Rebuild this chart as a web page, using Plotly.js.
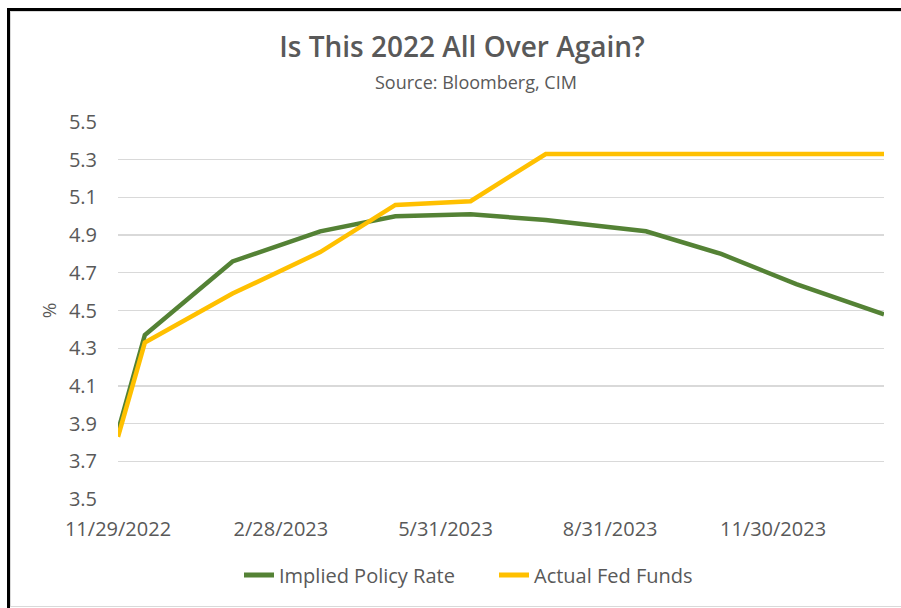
<!DOCTYPE html>
<html>
<head>
<meta charset="utf-8">
<script src="https://cdn.plot.ly/plotly-3.0.1.min.js"></script>
<style>
  html, body { margin: 0; padding: 0; background: #ffffff; }
  #wrap { position: relative; width: 901px; height: 608px; overflow: hidden; }
  #chart { position: absolute; left: 0; top: 0; width: 901px; height: 608px; }
  .frame { position: absolute; pointer-events: none; }
</style>
</head>
<body>
<div id="wrap">
  <div id="chart"></div>
  <div class="frame" style="left:7px; top:8px; width:3px; height:600px; background:#000;"></div>
  <div class="frame" style="left:7px; top:8px; width:894px; height:3px; background:#000;"></div>
  <div class="frame" style="left:10px; top:11px; width:1px; height:596px; background:#d9d9d9;"></div>
  <div class="frame" style="left:10px; top:11px; width:891px; height:1px; background:#d9d9d9;"></div>
  <div class="frame" style="left:10px; top:606px; width:891px; height:1px; background:#d9d9d9;"></div>
</div>
<script>
// FOMC meeting dates (x categories)
const dates = ['2022-11-29', '2022-12-14', '2023-02-01', '2023-03-22', '2023-05-03',
               '2023-06-14', '2023-07-26', '2023-09-20', '2023-11-01', '2023-12-13', '2024-01-31'];
// Implied policy rate (%)
const impliedPolicyRate = [3.86, 4.37, 4.76, 4.92, 5.00, 5.01, 4.98, 4.92, 4.80, 4.64, 4.48];
// Actual effective fed funds rate (%)
const actualFedFunds = [3.83, 4.33, 4.59, 4.81, 5.06, 5.08, 5.33, 5.33, 5.33, 5.33, 5.33];

const xTickVals = ['2022-11-29', '2023-02-28', '2023-05-31', '2023-08-31', '2023-11-30'];
const xTickText = ['11/29/2022', '2/28/2023', '5/31/2023', '8/31/2023', '11/30/2023'];
const yTickVals = [3.5, 3.7, 3.9, 4.1, 4.3, 4.5, 4.7, 4.9, 5.1, 5.3, 5.5];
const yTickText = ['3.5', '3.7', '3.9', '4.1', '4.3', '4.5', '4.7', '4.9', '5.1', '5.3', '5.5'];

const seriesNames = ['Implied Policy Rate', 'Actual Fed Funds'];

const FONT = '"Open Sans", "Noto Sans", "DejaVu Sans", sans-serif';
const GREY = '#595959';

const traces = [
  {
    x: dates, y: impliedPolicyRate, type: 'scatter', mode: 'lines',
    name: seriesNames[0],
    line: { color: '#548235', width: 4.5 }
  },
  {
    x: dates, y: actualFedFunds, type: 'scatter', mode: 'lines',
    name: seriesNames[1],
    line: { color: '#FFC000', width: 4.5 }
  }
];

const layout = {
  width: 901, height: 608,
  paper_bgcolor: 'rgba(0,0,0,0)', plot_bgcolor: '#ffffff',
  margin: { l: 118, r: 17, t: 122, b: 109, pad: 0 },
  font: { family: FONT, color: GREY },
  title: {
    text: 'Is This 2022 All Over Again?',
    font: { family: FONT, size: 28, color: GREY, weight: 600 },
    xref: 'container', yref: 'container',
    x: 462 / 901, xanchor: 'center',
    y: 1 - 47 / 608, yanchor: 'middle'
  },
  annotations: [
    {
      text: 'Source: Bloomberg, CIM',
      xref: 'paper', yref: 'paper',
      x: (476 - 118) / 766, y: 1 + (122 - 82) / 377,
      xanchor: 'center', yanchor: 'middle', showarrow: false,
      font: { family: FONT, size: 18, color: GREY }
    }
  ],
  xaxis: {
    type: 'date',
    range: ['2022-11-29', '2024-01-31'],
    tickmode: 'array', tickvals: xTickVals, ticktext: xTickText,
    showgrid: false, zeroline: false, showline: false, ticks: '',
    tickfont: { family: FONT, size: 20, color: GREY },
    ticklabelstandoff: 16,
    fixedrange: true
  },
  yaxis: {
    range: [3.5, 5.5],
    tickmode: 'array', tickvals: yTickVals, ticktext: yTickText,
    showgrid: true, gridcolor: '#d9d9d9', gridwidth: 1.3,
    zeroline: false, showline: false, ticks: '',
    tickfont: { family: FONT, size: 20, color: GREY },
    ticklabelstandoff: 20,
    title: { text: '%', font: { family: FONT, size: 19, color: GREY }, standoff: 7 },
    fixedrange: true
  },
  showlegend: true,
  legend: {
    orientation: 'h',
    xref: 'container', yref: 'container',
    x: 239 / 901, xanchor: 'left',
    y: 1 - 575 / 608, yanchor: 'middle',
    font: { family: FONT, size: 20, color: GREY },
    itemwidth: 30, itemsizing: 'constant',
    entrywidth: 210, entrywidthmode: 'pixels',
    bgcolor: 'rgba(0,0,0,0)', tracegroupgap: 0
  }
};

Plotly.newPlot('chart', traces, layout, { displayModeBar: false, staticPlot: true });
</script>
</body>
</html>
